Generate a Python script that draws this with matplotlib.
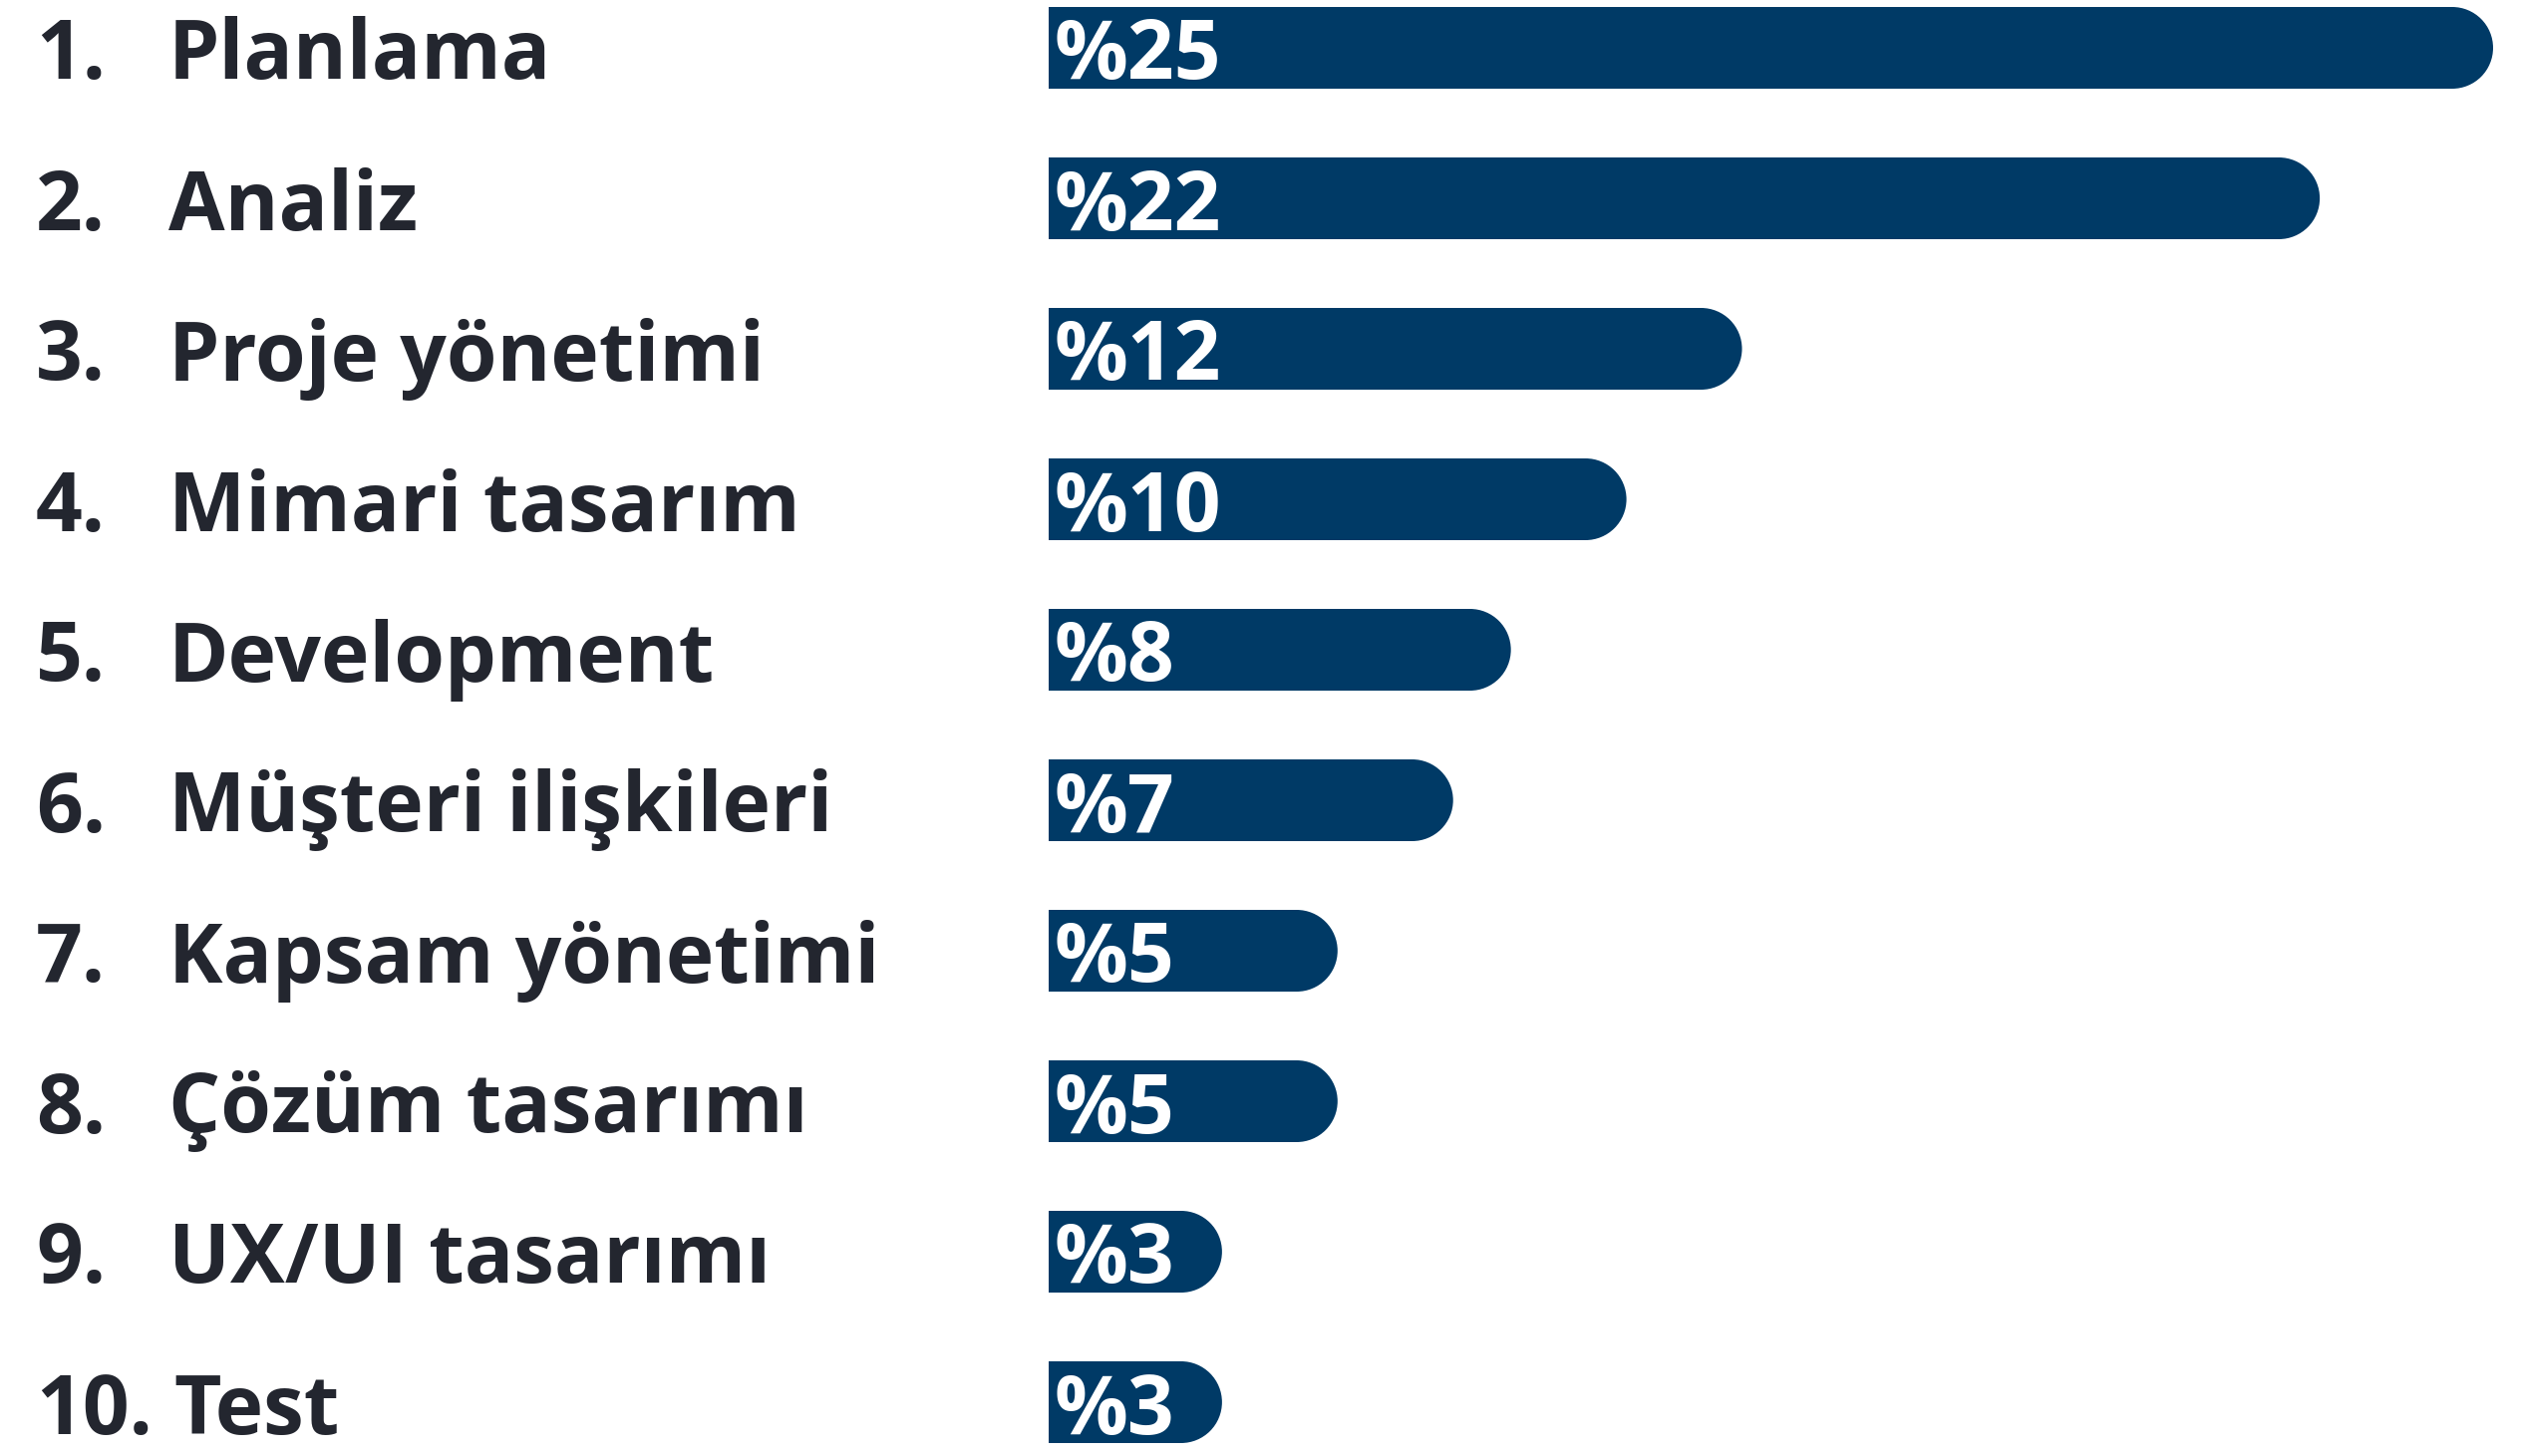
import matplotlib
matplotlib.use("Agg")
import matplotlib.pyplot as plt
from matplotlib.patches import Ellipse
import matplotlib.transforms as mtransforms

ranks = ["1.", "2.", "3.", "4.", "5.", "6.", "7.", "8.", "9.", "10."]
categories = ["Planlama", "Analiz", "Proje yönetimi", "Mimari tasarım", "Development",
              "Müşteri ilişkileri", "Kapsam yönetimi", "Çözüm tasarımı", "UX/UI tasarımı", "Test"]
values = [25, 22, 12, 10, 8, 7, 5, 5, 3, 3]
value_labels = ["%25", "%22", "%12", "%10", "%8", "%7", "%5", "%5", "%3", "%3"]

BAR_COLOR = "#003a66"
TEXT_COLOR = "#23262f"
FONT = ["Open Sans", "DejaVu Sans"]

W, H, DPI = 2530, 1461, 100
fig = plt.figure(figsize=(W / DPI, H / DPI), dpi=DPI)
fig.patch.set_facecolor("white")
ax = fig.add_axes([0, 0, 1, 1])
ax.set_axis_off()

# layout in pixels
x0_px = 1052          # where value 0 sits
px_per_unit = (2501 - 1052) / 25.0
y0_px = 48            # center of first bar from top
row_px = 151.0
bar_h_px = 82

ax.set_xlim(-x0_px / px_per_unit, (W - x0_px) / px_per_unit)
ax.set_ylim((H - y0_px) / row_px, -y0_px / row_px)

bar_h = bar_h_px / row_px
rx = (bar_h_px / 2) / px_per_unit

for i, v in enumerate(values):
    ax.barh(i, v - rx, height=bar_h, left=0, color=BAR_COLOR, linewidth=0)
    ax.add_patch(Ellipse((v - rx, i), 2 * rx, bar_h, facecolor=BAR_COLOR, edgecolor="none"))

trans = mtransforms.blended_transform_factory(fig.transFigure, ax.transData)
fs = 59
for i, (r, c, vl) in enumerate(zip(ranks, categories, value_labels)):
    ax.text(36 / W, i, r, transform=trans, ha="left", va="center_baseline",
            fontsize=fs, fontweight="bold", color=TEXT_COLOR, family=FONT)
    ax.text((169 if i < 9 else 174) / W, i, c, transform=trans, ha="left", va="center_baseline",
            fontsize=fs, fontweight="bold", color=TEXT_COLOR, family=FONT)
    ax.text(0.1, i, vl, ha="left", va="center_baseline",
            fontsize=fs, fontweight="bold", color="white", family=FONT)

fig.savefig("out.png", dpi=DPI, facecolor="white")
